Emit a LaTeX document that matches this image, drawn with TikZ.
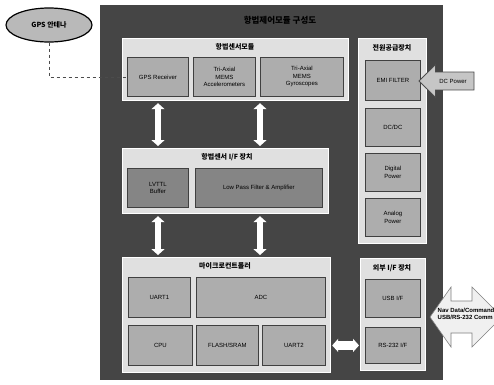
\documentclass[tikz,border=0pt]{standalone}
\usepackage{fontspec}
\setmainfont{Liberation Sans}
\newfontfamily\kr{Noto Sans CJK KR}
\usetikzlibrary{shapes.geometric,shapes.arrows,arrows.meta}
\definecolor{bgdark}{gray}{0.27}
\definecolor{panelfill}{gray}{0.88}
\definecolor{subfill}{gray}{0.68}
\definecolor{subdarkfill}{gray}{0.52}
\begin{document}
\begin{tikzpicture}[x=1pt,y=-1pt,
  panel/.style={draw=white,line width=1.2pt,fill=panelfill,anchor=north west,inner sep=0pt},
  subbox/.style={draw=black!75,line width=0.8pt,fill=subfill,anchor=north west,inner sep=1pt,
    align=center,font=\fontsize{6}{7.5}\selectfont},
  subdark/.style={subbox,fill=subdarkfill},
  ptitle/.style={font=\kr\bfseries\fontsize{7}{8}\selectfont,inner sep=0pt},
  blockarr/.style={draw=white,line width=6pt,
    {Triangle[width=13pt,length=6pt]}-{Triangle[width=13pt,length=6pt]}}
]
\useasboundingbox (0,0) rectangle (494,384);
\fill[white] (0,0) rectangle (494,384);
\node[fill=bgdark,anchor=north west,minimum width=343pt,minimum height=375pt,inner sep=0pt] (bg) at (100,5) {};
\node[font=\kr\bfseries\fontsize{8.5}{9}\selectfont,text=black] (title) at (280,20) {항법제어모듈 구성도};

% panels
\node[panel,minimum width=226pt,minimum height=62pt] (sens) at (122,38) {};
\node[panel,minimum width=206pt,minimum height=65pt] (ifp) at (122,148) {};
\node[panel,minimum width=208pt,minimum height=115pt] (mcu) at (122,257) {};
\node[panel,minimum width=68pt,minimum height=205pt] (pwr) at (358,38) {};
\node[panel,minimum width=65pt,minimum height=112pt] (ext) at (360,258) {};

\node[ptitle] (sensT) at (235,47) {항법센서모듈};
\node[ptitle] (ifpT) at (227,157) {항법센서 I/F 장치};
\node[ptitle] (mcuT) at (225,266) {마이크로컨트롤러};
\node[ptitle] (pwrT) at (392,48) {전원공급장치};
\node[ptitle] (extT) at (392,268) {외부 I/F 장치};

% sensor module
\node[subbox,minimum width=61pt,minimum height=39pt] (gpsr) at (127,57) {GPS Receiver};
\node[subbox,minimum width=62pt,minimum height=39pt] (acc) at (193,57) {Tri-Axial\\MEMS\\Accelerometers};
\node[subbox,minimum width=83pt,minimum height=39pt] (gyro) at (260,57) {Tri-Axial\\MEMS\\Gyroscopes};

% I/F
\node[subdark,minimum width=61pt,minimum height=39pt] (buf) at (127,168) {LVTTL\\Buffer};
\node[subdark,minimum width=127pt,minimum height=39pt] (lpf) at (195,168) {Low Pass Filter \& Amplifier};

% MCU
\node[subbox,minimum width=62pt,minimum height=40pt] (uart1) at (128,277) {UART1};
\node[subbox,minimum width=129pt,minimum height=40pt] (adc) at (196,277) {ADC};
\node[subbox,minimum width=64pt,minimum height=40pt] (cpu) at (128,325) {CPU};
\node[subbox,minimum width=62pt,minimum height=40pt] (flash) at (196,325) {FLASH/SRAM};
\node[subbox,minimum width=63pt,minimum height=40pt] (uart2) at (262,325) {UART2};

% power
\node[subbox,minimum width=55pt,minimum height=40pt] (emi) at (365,60) {EMI FILTER};
\node[subbox,minimum width=55pt,minimum height=38pt] (dcdc) at (365,108) {DC/DC};
\node[subbox,minimum width=55pt,minimum height=38pt] (dig) at (365,153) {Digital\\Power};
\node[subbox,minimum width=55pt,minimum height=38pt] (ana) at (365,198) {Analog\\Power};

% external
\node[subbox,minimum width=55pt,minimum height=38pt] (usb) at (365,279) {USB I/F};
\node[subbox,minimum width=55pt,minimum height=36pt] (rs) at (365,327) {RS-232 I/F};

% GPS antenna
\node[ellipse,draw=black,line width=1.2pt,fill=gray!55,minimum width=86pt,minimum height=34pt,
  font=\kr\bfseries\fontsize{7}{8}\selectfont] (gps) at (49,25) {GPS 안테나};
\draw[dashed,line width=0.6pt,black!70] (gps.south) |- (gpsr.west);

% vertical block arrows
\coordinate (xa) at (158,0);
\coordinate (xb) at (260,0);
\draw[blockarr,shorten <=2pt,shorten >=2pt] (xa |- sens.south) -- (xa |- ifp.north);
\draw[blockarr,shorten <=2pt,shorten >=2pt] (xb |- sens.south) -- (xb |- ifp.north);
\draw[blockarr,shorten <=2pt,shorten >=2pt] (xa |- ifp.south) -- (xa |- mcu.north);
\draw[blockarr,shorten <=2pt,shorten >=2pt] (xb |- ifp.south) -- (xb |- mcu.north);
% MCU to external
\draw[blockarr,line width=9pt,shorten <=1pt,shorten >=1pt] (mcu.east |- rs) -- (ext.west |- rs);

% DC power arrow
\node[single arrow,shape border rotate=180,draw=black!70,line width=0.8pt,fill=gray!45,
  minimum height=55pt,minimum width=33pt,single arrow head extend=3pt,inner sep=1pt,
  font=\fontsize{6}{7}\selectfont] (dcp) at (451,81) {\hspace*{4pt}DC Power};

% Nav data double arrow (shape drawn directly, right tip cut by the frame)
\begin{scope}
\clip (0,0) rectangle (494,384);
\filldraw[draw=black!50,line width=0.6pt,fill=gray!12]
  (430,317) -- (451,287) -- (451,301) -- (472,301) -- (472,287) -- (502,317)
  -- (472,347) -- (472,333) -- (451,333) -- (451,347) -- cycle;
\end{scope}
\node[font=\bfseries\fontsize{6}{7}\selectfont,align=left,inner sep=0pt] (navT) at (466,314) {Nav Data/Command\\USB/RS-232 Comm};
\end{tikzpicture}
\end{document}
